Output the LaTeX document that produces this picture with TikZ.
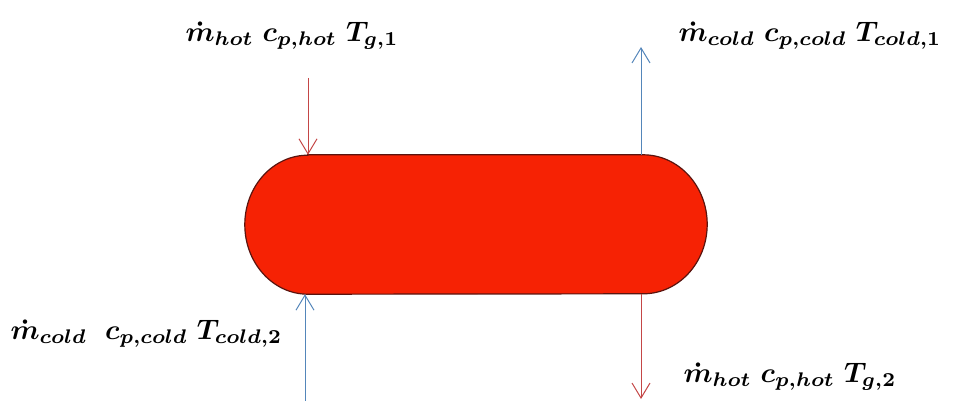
\documentclass[tikz,border=0pt]{standalone}
\usetikzlibrary{calc,arrows.meta}
\definecolor{hotfill}{RGB}{246,34,4}
\definecolor{hotline}{RGB}{90,20,15}
\definecolor{hotarr}{RGB}{196,70,70}
\definecolor{coldarr}{RGB}{84,134,186}
\newcommand{\flowfont}{\normalsize\mathversion{bold}}
\tikzset{
  blobframe/.style={rectangle, minimum width=462pt, minimum height=139pt, inner sep=0pt},
  blobfill/.style={draw=hotline, line width=1.2pt, fill=hotfill},
  hotflow/.style={draw=hotarr, line width=1pt, -{Straight Barb[length=15pt,width=18pt]}},
  coldflow/.style={draw=coldarr, line width=1pt, -{Straight Barb[length=15pt,width=18pt]}},
  flowlabel/.style={inner sep=0pt, anchor=west, font=\flowfont, transform shape, scale=2.82}
}
\begin{document}
\begin{tikzpicture}[x=1pt,y=-1pt]
\useasboundingbox (0,0) rectangle (963,401);
\node[blobframe] (hx) at (476,224.5) {};
\path[blobfill] ($(hx.north west)+(63,0)$) -- ($(hx.north east)+(-64,0)$)
  arc[start angle=90, end angle=-90, x radius=64pt, y radius=69.5pt]
  -- ($(hx.south west)+(63,0)$)
  arc[start angle=270, end angle=90, x radius=63pt, y radius=69.5pt] -- cycle;
\coordinate (hin) at (308,78);
\coordinate (cout) at (641,47);
\coordinate (cin) at (305,401);
\coordinate (hout) at (641,399);
\draw[hotflow] (hin) -- (hin |- hx.north);
\draw[coldflow] (cout |- hx.north) -- (cout);
\draw[coldflow] (cin) -- (cin |- hx.south);
\draw[hotflow] (hout |- hx.south) -- (hout);
\node[flowlabel] (la) at (185,36) {$\dot{m}_{hot}\;c_{p,hot}\;T_{g,1}$};
\node[flowlabel] (lb) at (678,36) {$\dot{m}_{cold}\;c_{p,cold}\;T_{cold,1}$};
\node[flowlabel] (lc) at (10,334) {$\dot{m}_{cold}\;\;c_{p,cold}\;T_{cold,2}$};
\node[flowlabel] (ld) at (683,377) {$\dot{m}_{hot}\;c_{p,hot}\;T_{g,2}$};
\end{tikzpicture}
\end{document}
